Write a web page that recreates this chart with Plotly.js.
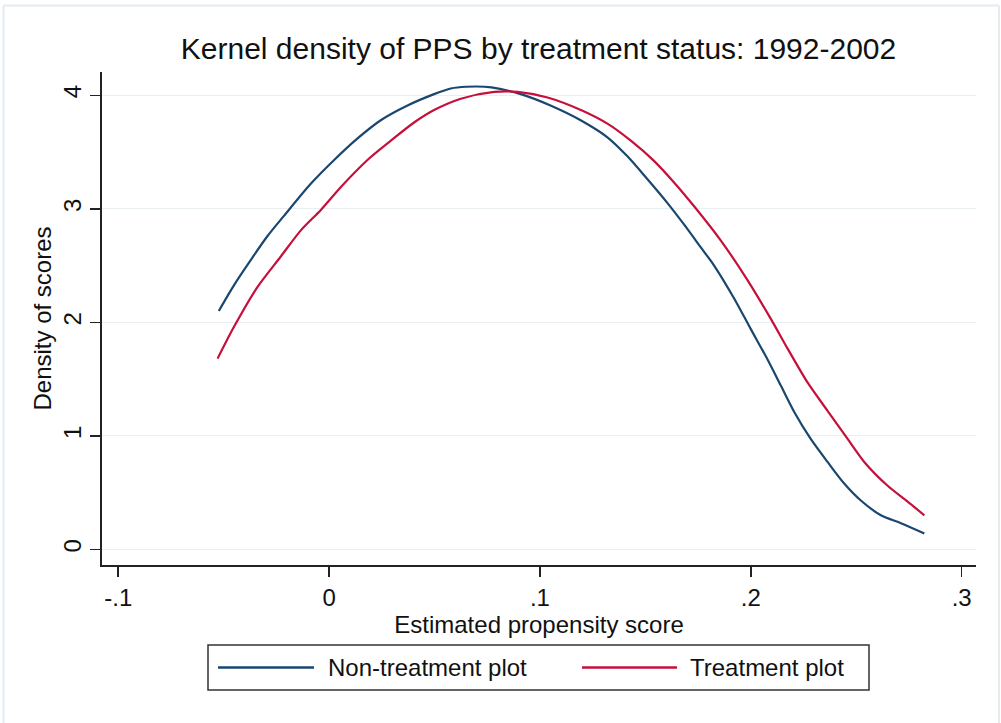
<!DOCTYPE html>
<html>
<head>
<meta charset="utf-8">
<script src="https://cdn.plot.ly/plotly-3.0.1.min.js"></script>
<style>
html, body { margin: 0; padding: 0; background: #ffffff; }
#chart { width: 1001px; height: 723px; }
</style>
</head>
<body>
<div id="chart"></div>
<script>
// ---- data ----
const seriesNames = ["Non-treatment plot", "Treatment plot"];

const nonTreatX = [-0.0523, -0.0450, -0.0371, -0.0292, -0.0213, -0.0087, 0.0024, 0.0135, 0.0245, 0.0372, 0.0498, 0.0577,
  0.0650, 0.0770, 0.0909, 0.1050, 0.1193, 0.1320, 0.1416, 0.1510, 0.1605, 0.1684, 0.1763, 0.1826, 0.1921, 0.2000,
  0.2080, 0.2143, 0.2206, 0.2285, 0.2364, 0.2443, 0.2522, 0.2617, 0.2712, 0.2823];
const nonTreatY = [2.10, 2.33, 2.55, 2.76, 2.94, 3.22, 3.43, 3.62, 3.78, 3.91, 4.01, 4.06,
  4.075, 4.07, 4.01, 3.91, 3.78, 3.63, 3.46, 3.26, 3.05, 2.86, 2.66, 2.50, 2.21, 1.94,
  1.67, 1.44, 1.21, 0.97, 0.77, 0.58, 0.43, 0.30, 0.23, 0.14];

const treatX = [-0.0529, -0.0451, -0.0340, -0.0229, -0.0134, -0.0039, 0.0055, 0.0182, 0.0293, 0.0403, 0.0498, 0.0625,
  0.0783, 0.0894, 0.1036, 0.1194, 0.1320, 0.1431, 0.1542, 0.1637, 0.1732, 0.1858, 0.1985, 0.2095, 0.2174, 0.2269,
  0.2364, 0.2460, 0.2538, 0.2649, 0.2744, 0.2823];
const treatY = [1.68, 1.96, 2.31, 2.58, 2.81, 2.99, 3.19, 3.43, 3.60, 3.76, 3.87, 3.97,
  4.03, 4.03, 3.98, 3.87, 3.75, 3.60, 3.42, 3.23, 3.02, 2.72, 2.37, 2.03, 1.77, 1.47,
  1.22, 0.97, 0.77, 0.56, 0.42, 0.30];

const xTickVals = [-0.1, 0, 0.1, 0.2, 0.3];
const xTickText = ["-.1", "0", ".1", ".2", ".3"];
const yTickVals = [0, 1, 2, 3, 4];
const yTickText = ["0", "1", "2", "3", "4"];

const titleText = "Kernel density of PPS by treatment status: 1992-2002";
const xTitle = "Estimated propensity score";
const yTitle = "Density of scores";

// ---- styling ----
const colors = ["#1a476f", "#c5103c"];
const FONT = "Liberation Sans, Arial, sans-serif";

const traces = [
  { x: nonTreatX, y: nonTreatY, name: seriesNames[0], type: "scatter", mode: "lines",
    line: { color: colors[0], width: 2.2, shape: "spline", smoothing: 0.8 }, showlegend: false },
  { x: treatX, y: treatY, name: seriesNames[1], type: "scatter", mode: "lines",
    line: { color: colors[1], width: 2.2, shape: "spline", smoothing: 0.8 }, showlegend: false }
];

// plot area in pixels: left 102, right 976, top 72, bottom 565
const L = 102, R = 976, T = 72, B = 565;
const px = v => (v - L) / (R - L);
const py = v => (B - v) / (B - T);

const legY = py(667.5);
const shapes = [
  // faint outer frame
  { type: "line", xref: "paper", yref: "paper", x0: px(3.5), x1: px(3.5), y0: py(5.5), y1: py(730), line: { color: "#e4ecef", width: 2 } },
  { type: "line", xref: "paper", yref: "paper", x0: px(3.5), x1: px(999), y0: py(5.5), y1: py(5.5), line: { color: "#e4ecef", width: 2 } },
  { type: "line", xref: "paper", yref: "paper", x0: px(999), x1: px(999), y0: py(5.5), y1: py(730), line: { color: "#e4ecef", width: 2 } },
  // legend box
  { type: "rect", xref: "paper", yref: "paper", x0: px(208), x1: px(869), y0: py(690), y1: py(645),
    line: { color: "#333333", width: 1.5 }, fillcolor: "rgba(0,0,0,0)" },
  { type: "line", xref: "paper", yref: "paper", x0: px(218), x1: px(314), y0: legY, y1: legY, line: { color: colors[0], width: 2.5 } },
  { type: "line", xref: "paper", yref: "paper", x0: px(582), x1: px(677), y0: legY, y1: legY, line: { color: colors[1], width: 2.5 } }
];

const annotations = [
  { xref: "paper", yref: "paper", x: px(326), y: legY, xanchor: "left", yanchor: "middle", showarrow: false,
    text: seriesNames[0], font: { family: FONT, size: 24, color: "#111111" } },
  { xref: "paper", yref: "paper", x: px(688), y: legY, xanchor: "left", yanchor: "middle", showarrow: false,
    text: seriesNames[1], font: { family: FONT, size: 24, color: "#111111" } }
];

const layout = {
  width: 1001, height: 723,
  margin: { l: L, r: 1001 - R, t: T, b: 723 - B, pad: 0 },
  paper_bgcolor: "#ffffff", plot_bgcolor: "#ffffff",
  font: { family: FONT, color: "#111111", size: 24 },
  title: { text: titleText, x: px(538.5), xref: "paper", xanchor: "center", y: 1 - 48 / 723, yref: "container", yanchor: "middle",
    font: { family: FONT, size: 30, color: "#111111" } },
  xaxis: {
    range: [-0.1077, 0.3068], tickvals: xTickVals, ticktext: xTickText,
    showline: true, linecolor: "#222222", linewidth: 1.8, mirror: false,
    ticks: "outside", ticklen: 10, tickwidth: 1.5, tickcolor: "#222222",
    showgrid: false, zeroline: false,
    tickfont: { family: FONT, size: 24, color: "#111111" },
    title: { text: xTitle, font: { family: FONT, size: 24, color: "#111111" }, standoff: 2 }
  },
  yaxis: {
    range: [-0.138, 4.205], tickvals: yTickVals, ticktext: yTickText, tickangle: -90,
    showline: true, linecolor: "#222222", linewidth: 1.8, mirror: false,
    ticks: "outside", ticklen: 10, tickwidth: 1.5, tickcolor: "#222222",
    showgrid: true, gridcolor: "#e9eff1", gridwidth: 1, zeroline: false,
    tickfont: { family: FONT, size: 24, color: "#111111" },
    title: { text: yTitle, font: { family: FONT, size: 24, color: "#111111" }, standoff: 0 }
  },
  shapes: shapes,
  annotations: annotations,
  showlegend: false
};

Plotly.newPlot("chart", traces, layout, { displayModeBar: false, staticPlot: true });
</script>
</body>
</html>
